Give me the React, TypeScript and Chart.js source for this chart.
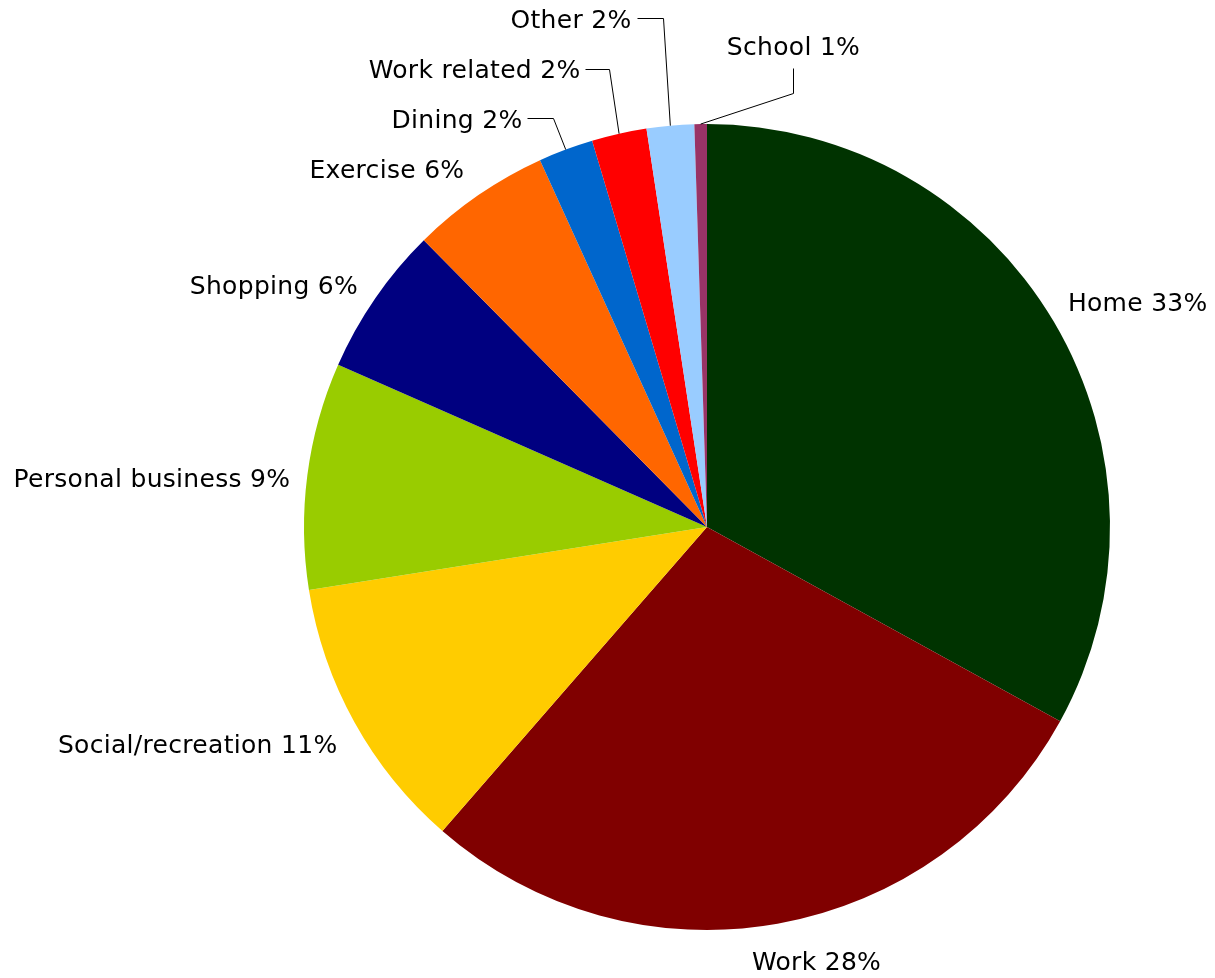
import React, { useEffect, useRef } from "react";
import { Chart, registerables } from "chart.js";

Chart.register(...registerables);

const categories = [
  "Home",
  "Work",
  "Social/recreation",
  "Personal business",
  "Shopping",
  "Exercise",
  "Dining",
  "Work related",
  "Other",
  "School",
];
const shares = [33.0, 28.4, 11.1, 9.1, 6.0, 5.6, 2.2, 2.2, 1.9, 0.5];
const colors = [
  "#003300",
  "#800000",
  "#FFCC00",
  "#99CC00",
  "#000080",
  "#FF6600",
  "#0066CC",
  "#FF0000",
  "#99CCFF",
  "#993366",
];

// label layout: offsets (px) relative to the outer-arc midpoint of each slice
type LabelLayout = {
  kind: "plain" | "leader";
  dx: number;
  dy: number;
  align: CanvasTextAlign;
  elbow?: [number, number];
  end?: [number, number];
};
const labelLayout: LabelLayout[] = [
  { kind: "plain", dx: 14, dy: -17, align: "left" },
  { kind: "plain", dx: 39, dy: 40, align: "center" },
  { kind: "plain", dx: -17, dy: 24, align: "right" },
  { kind: "plain", dx: -17, dy: 5, align: "right" },
  { kind: "plain", dx: -17, dy: -11, align: "right" },
  { kind: "plain", dx: -14, dy: -24, align: "right" },
  { kind: "leader", dx: -5, dy: 3, align: "right", elbow: [-13, -32], end: [-39, -32] },
  { kind: "leader", dx: -5, dy: 2, align: "right", elbow: [-10, -65], end: [-34, -65] },
  { kind: "leader", dx: -6, dy: 3, align: "right", elbow: [-7, -108], end: [-33, -108] },
  { kind: "leader", dx: 0, dy: -20, align: "center", elbow: [92, -31], end: [92, -56] },
];

const labelPlugin = {
  id: "pieLabels",
  afterDatasetsDraw(chart: any) {
    const meta = chart.getDatasetMeta(0);
    const ctx: any = chart.ctx;
    ctx.save();
    ctx.font = '25px "DejaVu Sans"';
    try {
      ctx.letterSpacing = "0.3px";
    } catch (e) {}
    ctx.fillStyle = "#000";
    ctx.strokeStyle = "#000";
    ctx.lineWidth = 1;
    ctx.textBaseline = "middle";
    meta.data.forEach((arc: any, i: number) => {
      const mid = (arc.startAngle + arc.endAngle) / 2;
      const r = arc.outerRadius;
      const ax = arc.x + Math.cos(mid) * r;
      const ay = arc.y + Math.sin(mid) * r;
      const lay = labelLayout[i];
      const text = `${categories[i]} ${Math.round(shares[i])}%`;
      let tx = ax + lay.dx;
      let ty = ay + lay.dy;
      if (lay.kind === "leader" && lay.elbow && lay.end) {
        const ex = Math.round(ax + lay.elbow[0]) + 0.5;
        const ey = Math.round(ay + lay.elbow[1]) + 0.5;
        const nx = Math.round(ax + lay.end[0]) + 0.5;
        const ny = Math.round(ay + lay.end[1]) + 0.5;
        ctx.beginPath();
        ctx.moveTo(ax, ay);
        ctx.lineTo(ex, ey);
        ctx.lineTo(nx, ny);
        ctx.stroke();
        tx = nx + lay.dx;
        ty = ny + lay.dy;
      }
      ctx.textAlign = lay.align;
      ctx.fillText(text, tx, ty);
    });
    ctx.restore();
  },
};

export default function App() {
  const ref = useRef<HTMLCanvasElement | null>(null);
  useEffect(() => {
    document.body.style.margin = "0";
    const chart = new Chart(ref.current as HTMLCanvasElement, {
      type: "pie",
      data: {
        labels: categories,
        datasets: [
          {
            data: shares,
            backgroundColor: colors,
            borderWidth: 0,
          },
        ],
      },
      options: {
        animation: false,
        responsive: false,
        maintainAspectRatio: false,
        layout: { padding: { left: 304, right: 105, top: 124, bottom: 48 } },
        plugins: {
          legend: { display: false },
          tooltip: { enabled: false },
        },
      },
      plugins: [labelPlugin],
    });
    return () => chart.destroy();
  }, []);
  return (
    <div style={{ position: "absolute", left: 0, top: 0, width: 1215, height: 978, background: "#fff" }}>
      <canvas ref={ref} width={1215} height={978} style={{ width: 1215, height: 978 }} />
    </div>
  );
}
